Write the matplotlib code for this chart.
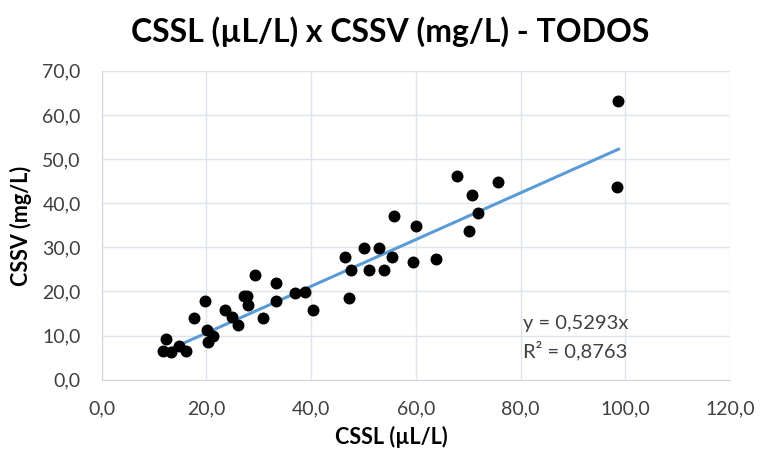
import numpy as np
import matplotlib.pyplot as plt
from matplotlib.ticker import FuncFormatter

plt.rcParams['font.family'] = ['Lato', 'DejaVu Sans']

# CSSL (uL/L) e CSSV (mg/L) de todas as amostras
cssl = [11.8, 12.3, 13.2, 14.7, 16.1, 17.7, 19.8, 20.2, 21.2, 20.4,
        23.5, 25.0, 26.0, 27.2, 27.8, 28.0, 29.3, 30.8, 33.3, 33.4,
        36.9, 38.9, 40.4, 46.4, 47.3, 47.6, 50.1, 51.1, 52.9, 54.0,
        55.4, 55.9, 59.5, 60.0, 63.8, 67.8, 70.2, 70.7, 71.9, 75.7,
        98.7, 98.4]
cssv = [6.6, 9.2, 6.2, 7.7, 6.6, 13.9, 17.9, 11.3, 9.8, 8.5,
        15.9, 14.3, 12.5, 18.9, 18.9, 17.0, 23.8, 13.9, 22.0, 17.9,
        19.7, 19.8, 15.9, 27.8, 18.5, 24.8, 29.8, 24.8, 29.9, 24.8,
        27.8, 37.0, 26.6, 34.9, 27.3, 46.1, 33.8, 41.8, 37.8, 44.8,
        63.1, 43.7]

slope = 0.5293
r2 = 0.8763

fig = plt.figure(figsize=(7.6, 4.51), dpi=100)
ax = fig.add_axes([0.1336, 0.158, 0.827, 0.685])

ax.scatter(cssl, cssv, s=74, color='black', zorder=3, linewidths=0)

# linha de tendencia passando pela origem
xl = np.array([min(cssl), max(cssl)])
ax.plot(xl, slope * xl, color='#5b9bd5', lw=2.2, zorder=2)

ax.set_xlim(0, 120)
ax.set_ylim(0, 70)
ax.set_xticks(np.arange(0, 121, 20))
ax.set_yticks(np.arange(0, 71, 10))
fmt = FuncFormatter(lambda v, p: f'{v:.1f}'.replace('.', ','))
ax.xaxis.set_major_formatter(fmt)
ax.yaxis.set_major_formatter(fmt)
ax.tick_params(length=0, labelsize=14, colors='#404040')
ax.tick_params(axis='x', pad=15)
ax.tick_params(axis='y', pad=15)

ax.grid(True, color='#dfe3eb', lw=1.0, zorder=0)
ax.set_axisbelow(True)
for s in ['top', 'right']:
    ax.spines[s].set_visible(False)
for s in ['left', 'bottom']:
    ax.spines[s].set_color('#d0d5de')

fig.text(0.515, 0.031, 'CSSL (µL/L)', ha='center', va='center',
         fontsize=15.5, fontweight='bold')
fig.text(0.028, 0.50, 'CSSV (mg/L)', ha='center', va='center', rotation=90,
         fontsize=15.5, fontweight='bold')

fig.text(0.513, 0.929, 'CSSL (µL/L) x CSSV (mg/L) - TODOS', ha='center', va='center',
         fontsize=23, fontweight='bold', color='black')

ax.text(0.671, 0.183, f'y = {slope:.4f}x'.replace('.', ','), transform=ax.transAxes,
        fontsize=14.5, color='#404040', va='center')
ax.text(0.671, 0.096, f'R² = {r2:.4f}'.replace('.', ','), transform=ax.transAxes,
        fontsize=14.5, color='#404040', va='center')

fig.savefig('out.png', dpi=100)
